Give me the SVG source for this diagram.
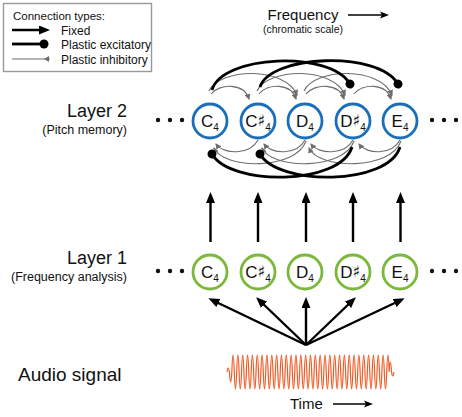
<svg xmlns="http://www.w3.org/2000/svg" width="462" height="417" viewBox="0 0 462 417">
<style>
text{font-family:"Liberation Sans","DejaVu Sans",sans-serif;fill:#111}
.l2 circle{fill:#fff;stroke:#1b6fba;stroke-width:2.8}
.l1 circle{fill:#fff;stroke:#7cb83b;stroke-width:2.8}
.nt{font-size:17px;text-anchor:middle}
.sub{font-size:10px}
.sh{font-family:"DejaVu Sans",sans-serif;font-size:16px}
.fixed{stroke:#000;stroke-width:2.4;fill:none;marker-end:url(#arr)}
.exc{stroke:#000;stroke-width:2.8;fill:none;marker-end:url(#dot)}
.inh{stroke:#6e6e6e;stroke-width:1.1;fill:none;marker-end:url(#inh)}
.dots circle{fill:#111}
</style>
<defs>
<marker id="arr" markerUnits="userSpaceOnUse" markerWidth="11" markerHeight="9" refX="7" refY="4.5" orient="auto"><path d="M0,0 L11,4.5 L0,9 z" fill="#000"/></marker>
<marker id="dot" markerUnits="userSpaceOnUse" markerWidth="10" markerHeight="10" refX="5" refY="5" orient="auto"><circle cx="5" cy="5" r="4.5" fill="#000"/></marker>
<marker id="inh" markerUnits="userSpaceOnUse" markerWidth="7" markerHeight="6" refX="5" refY="3" orient="auto"><path d="M0,0 L6,3 L0,6 z" fill="#6e6e6e"/></marker>
</defs>

<g id="legend">
<rect x="3.5" y="3.5" width="148" height="68" fill="#fff" stroke="#999" stroke-width="1.4"/>
<text x="13" y="20" font-size="11.5">Connection types:</text>
<line x1="12" y1="30" x2="46" y2="30" stroke="#000" stroke-width="2.4" marker-end="url(#arr)"/>
<text x="61" y="35" font-size="12">Fixed</text>
<line x1="12" y1="44" x2="44" y2="44" stroke="#000" stroke-width="2.8"/>
<circle cx="44" cy="44" r="4.5" fill="#000"/>
<text x="61" y="49" font-size="12">Plastic excitatory</text>
<line x1="12" y1="59" x2="50" y2="59" stroke="#6e6e6e" stroke-width="1.1"/>
<path d="M49,56 L49,62 L44,59 z" fill="#6e6e6e"/>
<text x="61" y="64" font-size="12">Plastic inhibitory</text>
</g>

<g id="freq-label">
<text x="303" y="20" font-size="15" text-anchor="middle">Frequency</text>
<text x="303" y="33" font-size="10.5" text-anchor="middle">(chromatic scale)</text>
<line x1="348" y1="15" x2="382" y2="15" stroke="#000" stroke-width="1.3"/>
<path d="M389,15 L380,11.5 L382,15 L380,18.5 z" fill="#000"/>
</g>

<g id="layer-labels">
<text x="127" y="117" font-size="18" text-anchor="end">Layer 2</text>
<text x="127" y="134" font-size="12.5" text-anchor="end">(Pitch memory)</text>
<text x="127" y="264" font-size="18" text-anchor="end">Layer 1</text>
<text x="127" y="281" font-size="12.5" text-anchor="end">(Frequency analysis)</text>
<text x="18" y="381" font-size="19">Audio signal</text>
</g>

<g id="dots" class="dots">
<circle cx="158" cy="120" r="2.2"/><circle cx="170" cy="120" r="2.2"/><circle cx="182" cy="120" r="2.2"/>
<circle cx="432" cy="120" r="2.2"/><circle cx="444" cy="120" r="2.2"/><circle cx="456" cy="120" r="2.2"/>
<circle cx="158" cy="271" r="2.2"/><circle cx="170" cy="271" r="2.2"/><circle cx="182" cy="271" r="2.2"/>
<circle cx="432" cy="271" r="2.2"/><circle cx="444" cy="271" r="2.2"/><circle cx="456" cy="271" r="2.2"/>
</g>

<g id="connectors">
<!-- audio to layer 1 -->
<line class="fixed" x1="306" y1="345" x2="212" y2="300"/>
<line class="fixed" x1="306" y1="345" x2="259" y2="300"/>
<line class="fixed" x1="306" y1="345" x2="306" y2="301"/>
<line class="fixed" x1="306" y1="345" x2="353" y2="300"/>
<line class="fixed" x1="306" y1="345" x2="401" y2="300"/>
<!-- layer 1 to layer 2 -->
<line class="fixed" x1="210.5" y1="242" x2="210.5" y2="196"/>
<line class="fixed" x1="258" y1="242" x2="258" y2="196"/>
<line class="fixed" x1="306" y1="242" x2="306" y2="196"/>
<line class="fixed" x1="353" y1="242" x2="353" y2="196"/>
<line class="fixed" x1="400.5" y1="242" x2="400.5" y2="196"/>
<!-- top inhibitory short -->
<path class="inh" d="M211,94 C220,83 244,83 249,99"/>
<path class="inh" d="M259,94 C268,83 291,83 296,99"/>
<path class="inh" d="M306,94 C315,83 339,83 344,99"/>
<path class="inh" d="M354,94 C363,83 386,83 391,99"/>
<!-- top inhibitory long -->
<path class="inh" d="M209,91 C220,68 285,66 297,95"/>
<path class="inh" d="M257,91 C268,68 333,66 345,95"/>
<path class="inh" d="M304,91 C315,68 380,66 392,95"/>
<!-- bottom inhibitory short -->
<path class="inh" d="M258,140 C250,155 224,155 216,144"/>
<path class="inh" d="M305,140 C297,155 272,155 264,144"/>
<path class="inh" d="M353,140 C345,155 319,155 311,144"/>
<path class="inh" d="M400,140 C392,155 367,155 359,144"/>
<!-- bottom inhibitory long -->
<path class="inh" d="M306,141 C296,170 224,170 214,148"/>
<path class="inh" d="M354,141 C344,170 272,170 262,148"/>
<path class="inh" d="M401,141 C391,170 319,170 309,148"/>
<!-- excitatory -->
<path class="exc" d="M212,90 C222,55 330,50 350,84"/>
<path class="exc" d="M260,87 C270,55 378,50 398,84"/>
<path class="exc" d="M352,147 C340,186 230,186 212,154"/>
<path class="exc" d="M400,147 C388,186 278,186 260,154"/>
</g>

<g id="layer2" class="l2">
<g id="L2-C4"><circle cx="210" cy="121" r="17"/><text class="nt" x="210" y="127">C<tspan class="sub" dy="4">4</tspan></text></g>
<g id="L2-Cs4"><circle cx="258" cy="121" r="17"/><text class="nt" x="258" y="127">C<tspan class="sh" dy="-1">♯</tspan><tspan class="sub" dy="5">4</tspan></text></g>
<g id="L2-D4"><circle cx="305" cy="121" r="17"/><text class="nt" x="305" y="127">D<tspan class="sub" dy="4">4</tspan></text></g>
<g id="L2-Ds4"><circle cx="353" cy="121" r="17"/><text class="nt" x="353" y="127">D<tspan class="sh" dy="-1">♯</tspan><tspan class="sub" dy="5">4</tspan></text></g>
<g id="L2-E4"><circle cx="400" cy="121" r="17"/><text class="nt" x="400" y="127">E<tspan class="sub" dy="4">4</tspan></text></g>
</g>

<g id="layer1" class="l1">
<g id="L1-C4"><circle cx="210" cy="272" r="17"/><text class="nt" x="210" y="278">C<tspan class="sub" dy="4">4</tspan></text></g>
<g id="L1-Cs4"><circle cx="258" cy="272" r="17"/><text class="nt" x="258" y="278">C<tspan class="sh" dy="-1">♯</tspan><tspan class="sub" dy="5">4</tspan></text></g>
<g id="L1-D4"><circle cx="305" cy="272" r="17"/><text class="nt" x="305" y="278">D<tspan class="sub" dy="4">4</tspan></text></g>
<g id="L1-Ds4"><circle cx="353" cy="272" r="17"/><text class="nt" x="353" y="278">D<tspan class="sh" dy="-1">♯</tspan><tspan class="sub" dy="5">4</tspan></text></g>
<g id="L1-E4"><circle cx="400" cy="272" r="17"/><text class="nt" x="400" y="278">E<tspan class="sub" dy="4">4</tspan></text></g>
</g>

<g id="audio">
<path fill="none" stroke="#f15a24" stroke-width="1.2" d="M227,372 q1.21,-8 2.42,0 q1.21,20 2.42,0 q1.21,-34 2.42,0 t2.42,0 2.42,0 2.42,0 2.42,0 2.42,0 2.42,0 2.42,0 2.42,0 2.42,0 2.42,0 2.42,0 2.42,0 2.42,0 2.42,0 2.42,0 2.42,0 2.42,0 2.42,0 2.42,0 2.42,0 2.42,0 2.42,0 2.42,0 2.42,0 2.42,0 2.42,0 2.42,0 2.42,0 2.42,0 2.42,0 2.42,0 2.42,0 2.42,0 2.42,0 2.42,0 2.42,0 2.42,0 2.42,0 2.42,0 2.42,0 2.42,0 2.42,0 2.42,0 2.42,0 2.42,0 2.42,0 2.42,0 2.42,0 2.42,0 2.42,0 2.42,0 2.42,0 2.42,0 2.42,0 2.42,0 2.42,0 2.42,0 2.42,0 2.42,0 2.42,0 2.42,0 2.42,0 2.42,0 2.42,0 q1.21,-20 2.42,0 q1.21,8 2.42,0"/>
<text x="290" y="409" font-size="15">Time</text>
<line x1="333" y1="404" x2="366" y2="404" stroke="#000" stroke-width="1.3"/>
<path d="M373,404 L364,400.5 L366,404 L364,407.5 z" fill="#000"/>
</g>
</svg>
